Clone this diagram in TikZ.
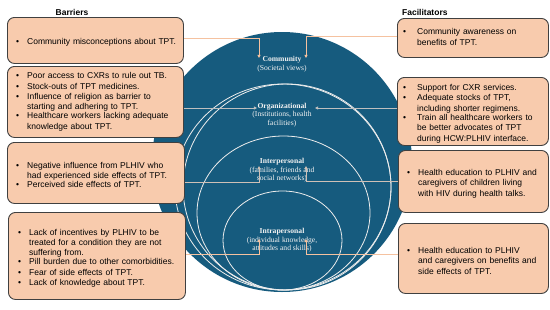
\documentclass[tikz,border=0pt]{standalone}
\usepackage{fontspec}
\setmainfont{Liberation Sans}
\newfontfamily\ringfont{Liberation Serif}
\usetikzlibrary{positioning,arrows.meta}
\definecolor{ringblue}{HTML}{165B7E}
\definecolor{boxpeach}{HTML}{F8CBAD}
\definecolor{boxedge}{HTML}{404040}
\definecolor{ringline}{HTML}{EDEDED}
\definecolor{peachline}{HTML}{F5C2A0}
\definecolor{greyline}{HTML}{BFBFBF}
\definecolor{ringtext}{HTML}{F2F2F2}
% bullet line, wrapped lines set under the text
\newcommand{\titem}[2][11pt]{\par\noindent\makebox[#1][l]{\textbullet}%
  \parbox[t]{150pt}{\raggedright#2}}
\tikzset{
  sem box/.style={draw=boxedge,line width=0.9pt,fill=boxpeach,rounded corners=7pt,
    anchor=north west,inner sep=0pt},
  sem text/.style={inner sep=0pt,text width=170pt,
    font=\fontsize{8.5}{10.4}\selectfont\raggedright},
  sem ring/.style={draw=ringline,line width=0.8pt},
  sem label/.style={align=center,text=ringtext,inner sep=0pt,
    font=\ringfont\fontsize{7.6}{8.4}\selectfont},
  sem head/.style={font=\fontsize{8.5}{10}\selectfont\bfseries,inner sep=0pt},
  sem link/.style={line width=1pt,-{Triangle[length=3.2pt,width=3.2pt]}}
}
\begin{document}
\begin{tikzpicture}[x=1pt,y=-1pt]
  \useasboundingbox (0,0) rectangle (550,309);

  % nested levels
  \fill[ringblue] (282,162) circle[radius=130];
  \draw[sem ring] (283,187) ellipse[x radius=108,y radius=103];
  \draw[sem ring] (287,187) ellipse[x radius=104,y radius=103];
  \draw[sem ring] (283.5,213) ellipse[x radius=86.5,y radius=77];
  \draw[sem ring] (282.5,240.5) ellipse[x radius=59.5,y radius=49.5];

  \node[sem label] (comm) at (282,64) {\textbf{Community}\\(Societal views)};
  \node[sem label] (org) at (282,115) {\textbf{Organizational}\\(Institutions, health\\facilities)};
  \node[sem label] (inter) at (282,170.5) {\textbf{Interpersonal}\\(families, friends and\\social networks)};
  \node[sem label] (intra) at (282,240.5) {\textbf{Intrapersonal}\\(individual knowledge,\\attitudes and skills)};

  % headers
  \node[sem head] (barhead) at (72,12) {Barriers};
  \node[sem head,anchor=west] (fachead) at (402,12) {Facilitators};

  % barriers
  \node[sem box,minimum width=176pt,minimum height=46pt] (b1) at (7,17) {};
  \node[sem box,minimum width=176pt,minimum height=71pt] (b2) at (7,66) {};
  \node[sem box,minimum width=177pt,minimum height=61pt] (b3) at (7,142) {};
  \node[sem box,minimum width=177pt,minimum height=87pt] (b4) at (8,212) {};

  \node[sem text,anchor=west] (b1t) at ([xshift=9pt]b1.west)
    {\titem{Community misconceptions about TPT.}};
  \node[sem text,anchor=north west] (b2t) at ([xshift=9pt,yshift=-2pt]b2.north west)
    {\titem{Poor access to CXRs to rule out TB.}
     \titem{Stock-outs of TPT medicines.}
     \titem{Influence of religion as barrier to\\starting and adhering to TPT.}
     \titem{Healthcare workers lacking adequate\\knowledge about TPT.}};
  \node[sem text,anchor=west] (b3t) at ([xshift=9pt]b3.west)
    {\titem{Negative influence from PLHIV who\\had experienced side effects of TPT.}
     \titem{Perceived side effects of TPT.}};
  \node[sem text,anchor=west] (b4t) at ([xshift=10pt]b4.west)
    {\titem{Lack of incentives by PLHIV to be\\treated for a condition they are not\\suffering from.}
     \titem{Pill burden due to other comorbidities.}
     \titem{Fear of side effects of TPT.}
     \titem{Lack of knowledge about TPT.}};

  % facilitators
  \node[sem box,minimum width=151pt,minimum height=39pt] (f1) at (397,18) {};
  \node[sem box,minimum width=151pt,minimum height=68pt] (f2) at (397,77) {};
  \node[sem box,minimum width=150pt,minimum height=62pt] (f3) at (398,150) {};
  \node[sem box,minimum width=150pt,minimum height=70pt] (f4) at (398,223) {};

  \node[sem text,anchor=north west] (f1t) at ([xshift=6pt,yshift=-6pt]f1.north west)
    {\titem[14pt]{Community awareness on\\benefits of TPT.}};
  \node[sem text,anchor=west] (f2t) at ([xshift=6pt]f2.west)
    {\titem[14pt]{Support for CXR services.}
     \titem[14pt]{Adequate stocks of TPT,\\including shorter regimens.}
     \titem[14pt]{Train all healthcare workers to\\be better advocates of TPT\\during HCW:PLHIV interface.}};
  \node[sem text,anchor=west] (f3t) at ([xshift=9pt]f3.west)
    {\titem[11pt]{Health education to PLHIV and\\caregivers of children living\\with HIV during health talks.}};
  \node[sem text,anchor=west] (f4t) at ([xshift=9pt]f4.west)
    {\titem[11pt]{Health education to PLHIV\\and caregivers on benefits and\\side effects of TPT.}};

  % arrow ends at the level labels
  \coordinate (commL) at (259,58);
  \coordinate (commR) at (306,58);
  \coordinate (orgL) at (257,108);
  \coordinate (orgR) at (315,108);
  \coordinate (interL) at (259,166);
  \coordinate (interR) at (306,166);
  \coordinate (intraL) at (259,239);
  \coordinate (intraR) at (306,239);

  \draw[sem link,peachline] ([yshift=2pt]b1.east) -| (commL);
  \draw[sem link,peachline] ([yshift=1.5pt]f1.west) -| (commR);
  \draw[sem link,greyline] (b2.east |- orgL) -- (orgL);
  \draw[sem link,greyline] (f2.west |- orgR) -- (orgR);
  \draw[sem link,greyline!70!peachline] ([yshift=-9.5pt]b3.east) -| (interL);
  \draw[sem link,greyline!70!peachline] (f3.west) -| (interR);
  \draw[sem link,peachline] ([yshift=1.5pt]b4.east) -| (intraL);
  \draw[sem link,peachline] ([yshift=4pt]f4.west) -| (intraR);
\end{tikzpicture}
\end{document}
